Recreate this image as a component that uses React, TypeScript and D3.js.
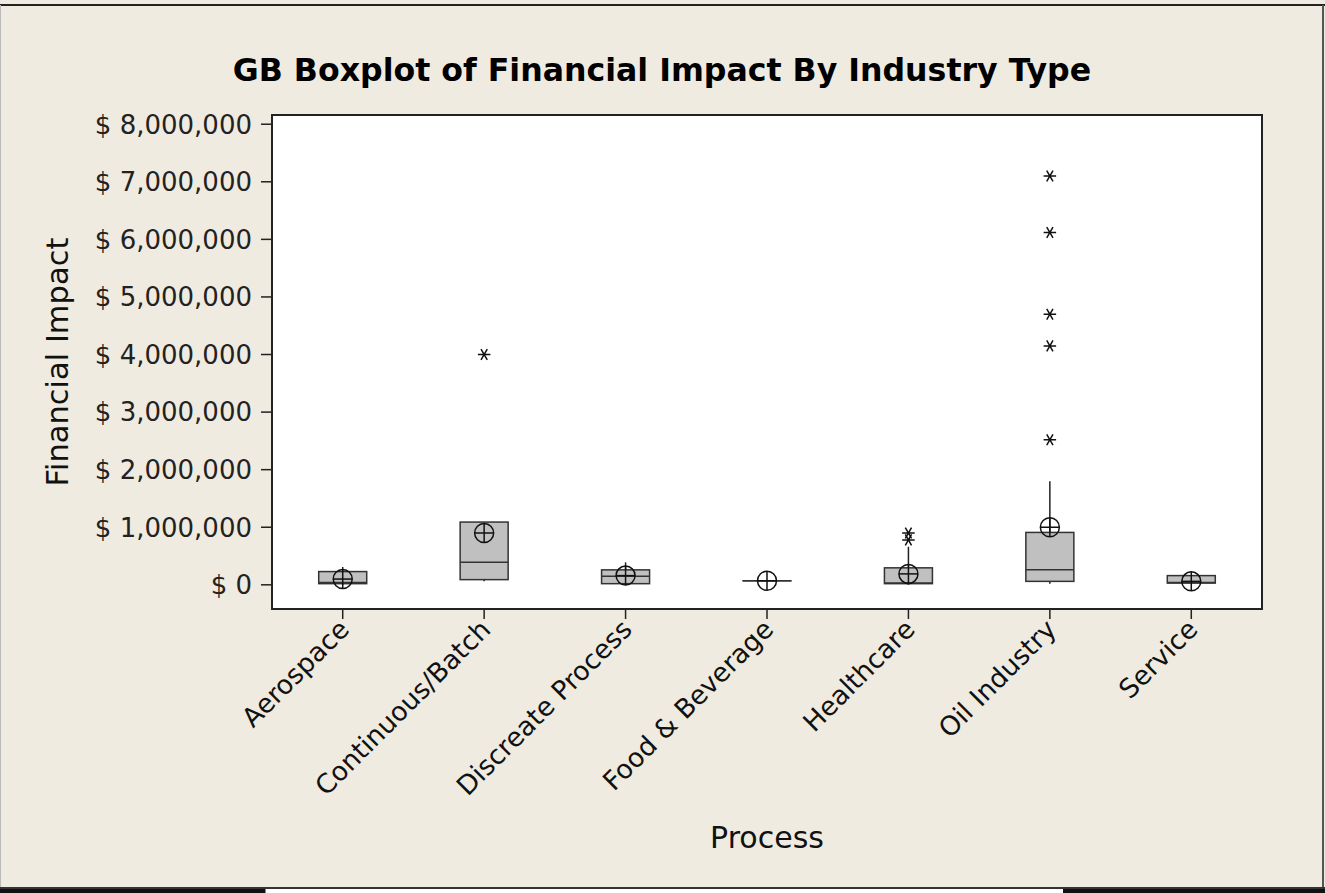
import React from 'react';
import * as d3 from 'd3';

// values, in dollars
const categories = ['Aerospace', 'Continuous/Batch', 'Discreate Process', 'Food & Beverage', 'Healthcare', 'Oil Industry', 'Service'];
const whiskerLow = [0, 60000, 0, 70000, 0, 20000, 20000];
const q1 = [20000, 90000, 20000, 70000, 20000, 60000, 30000];
const medians = [40000, 390000, 150000, 70000, 30000, 260000, 40000];
const q3 = [230000, 1090000, 260000, 70000, 295000, 910000, 160000];
const whiskerHigh = [310000, 1090000, 390000, 70000, 660000, 1800000, 160000];
const means = [100000, 900000, 160000, 70000, 190000, 1000000, 60000];
const outliers = [[], [4000000], [], [], [780000, 900000], [2520000, 4150000, 4700000, 6120000, 7100000], []];
const yTicks = [0, 1000000, 2000000, 3000000, 4000000, 5000000, 6000000, 7000000, 8000000];

const W = 1325;
const H = 893;
const plot = {left: 272, right: 1262, top: 115, bottom: 609};
const font = '"DejaVu Sans", Verdana, sans-serif';
const bg = '#efebe1';

export default function App() {
  const x = d3.scaleBand().domain(categories).range([plot.left, plot.right]).padding(0);
  const y = d3.scaleLinear().domain([-420000, 8160000]).range([plot.bottom, plot.top]);
  const fmt = (v: number) => '$ ' + d3.format(',')(v);
  const boxW = 48;
  const star = d3.symbol().type(d3.symbolAsterisk).size(110)();

  return (
    <svg width={W} height={H} style={{position: 'absolute', left: 0, top: 0}} fontFamily={font}>
      <rect x={0} y={0} width={W} height={H} fill={bg} />
      {/* outer frame */}
      <line x1={0} y1={5} x2={W} y2={5} stroke="#222" strokeWidth={2} />
      <line x1={0.5} y1={5} x2={0.5} y2={888} stroke="#bbb" strokeWidth={1} />
      <line x1={1323} y1={5} x2={1323} y2={889} stroke="#555" strokeWidth={2} />
      <line x1={0} y1={888} x2={W} y2={888} stroke="#333" strokeWidth={2} />
      <rect x={0} y={889} width={W} height={4} fill="#111" />
      <rect x={265} y={889} width={798} height={4} fill="#fff" />
      <line x1={265.5} y1={889} x2={265.5} y2={893} stroke="#888" />

      <text x={662} y={81} textAnchor="middle" fontWeight="bold" fontSize={31.6} fill="#000">
        GB Boxplot of Financial Impact By Industry Type
      </text>

      <rect x={plot.left} y={plot.top} width={plot.right - plot.left} height={plot.bottom - plot.top} fill="#fff" stroke="#222" strokeWidth={2} />

      {/* y axis */}
      {yTicks.map(t => (
        <g key={t}>
          <line x1={plot.left - 11} x2={plot.left} y1={y(t)} y2={y(t)} stroke="#222" strokeWidth={1.5} />
          <text x={252} y={y(t)} dy="0.36em" textAnchor="end" fontSize={26} fill="#222">{fmt(t)}</text>
        </g>
      ))}
      <text transform={`translate(68, ${(plot.top + plot.bottom) / 2}) rotate(-90)`} textAnchor="middle" fontSize={30.5} fill="#111">Financial Impact</text>

      {/* x axis */}
      {categories.map(c => {
        const cx = x(c)! + x.bandwidth() / 2;
        return (
          <g key={c}>
            <line x1={cx} x2={cx} y1={plot.bottom} y2={plot.bottom + 10} stroke="#222" strokeWidth={1.5} />
            <text transform={`translate(${cx + 8}, ${plot.bottom + 22}) rotate(-45)`} textAnchor="end" fontSize={26.5} fill="#111">{c}</text>
          </g>
        );
      })}
      <text x={(plot.left + plot.right) / 2} y={848} textAnchor="middle" fontSize={30} fill="#111">Process</text>

      {/* boxes */}
      {categories.map((c, i) => {
        const cx = x(c)! + x.bandwidth() / 2;
        const my = y(means[i]);
        return (
          <g key={c}>
            <line x1={cx} x2={cx} y1={y(whiskerLow[i])} y2={y(q1[i])} stroke="#222" strokeWidth={1.5} />
            <line x1={cx} x2={cx} y1={y(q3[i])} y2={y(whiskerHigh[i])} stroke="#222" strokeWidth={1.5} />
            <rect x={cx - boxW / 2} y={y(q3[i])} width={boxW} height={Math.max(0.01, y(q1[i]) - y(q3[i]))} fill="#c0c0c0" stroke="#333" strokeWidth={1.5} />
            <line x1={cx - boxW / 2} x2={cx + boxW / 2} y1={y(medians[i])} y2={y(medians[i])} stroke="#333" strokeWidth={1.5} />
            <circle cx={cx} cy={my} r={9.5} fill="none" stroke="#111" strokeWidth={1.5} />
            <line x1={cx - 9.5} x2={cx + 9.5} y1={my} y2={my} stroke="#111" strokeWidth={1.5} />
            <line x1={cx} x2={cx} y1={my - 9.5} y2={my + 9.5} stroke="#111" strokeWidth={1.5} />
            {outliers[i].map(o => (
              <path key={o} d={star!} transform={`translate(${cx}, ${y(o)}) rotate(90)`} fill="none" stroke="#111" strokeWidth={1.5} />
            ))}
          </g>
        );
      })}
    </svg>
  );
}
